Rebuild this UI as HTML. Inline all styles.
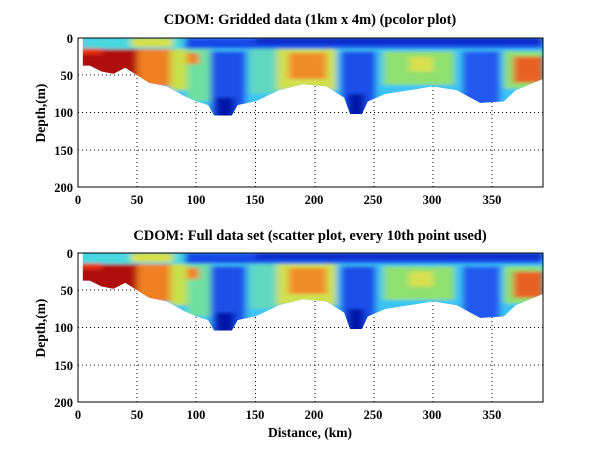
<!DOCTYPE html>
<html><head><style>
body{margin:0;background:#fff;}
svg{display:block;font-family:"Liberation Serif",serif;font-weight:bold;}
</style></head><body>
<svg width="600" height="451" viewBox="0 0 600 451" xmlns="http://www.w3.org/2000/svg">
<defs>
<filter id="bl" x="-5%" y="-5%" width="110%" height="110%"><feGaussianBlur stdDeviation="3 2"/></filter>
<clipPath id="cp"><polygon points="4,0 393,0 393,55 370,70 360,85 340,87 320,70 300,65 280,70 260,75 245,85 240,102 230,102 225,80 210,65 190,62 170,70 150,85 135,90 130,104 115,104 110,90 100,85 90,78 75,65 60,60 50,50 40,40 30,48 20,45 10,37 4,37"/></clipPath>
<g id="data">
<g clip-path="url(#cp)">
<rect x="0" y="0" width="393" height="110" fill="#3cc4f4"/>
<g filter="url(#bl)">
<rect x="0" y="0" width="393" height="110" fill="#3cc4f4"/>
<rect x="90" y="0" width="303" height="14" fill="#1848e8"/>
<rect x="150" y="0" width="243" height="8" fill="#0a28c8"/>
<rect x="0" y="0" width="90" height="15" fill="#48d8e0"/>
<rect x="45" y="0" width="35" height="12" fill="#d8e048"/>
<rect x="0" y="15" width="55" height="40" fill="#b01010"/>
<rect x="0" y="14" width="20" height="8" fill="#e83010"/>
<rect x="50" y="15" width="30" height="50" fill="#f08020"/>
<rect x="78" y="15" width="18" height="55" fill="#c8e048"/>
<rect x="92" y="15" width="20" height="70" fill="#70e0a0"/>
<rect x="92" y="20" width="10" height="15" fill="#f08020"/>
<rect x="112" y="18" width="30" height="90" fill="#1a50ea"/>
<rect x="116" y="80" width="16" height="30" fill="#0414a8"/>
<rect x="145" y="15" width="25" height="60" fill="#60d8c0"/>
<rect x="168" y="15" width="50" height="55" fill="#d0e050"/>
<rect x="178" y="20" width="32" height="35" fill="#f08c28"/>
<rect x="222" y="18" width="30" height="90" fill="#1a50ea"/>
<rect x="228" y="75" width="14" height="30" fill="#0414a8"/>
<rect x="258" y="18" width="60" height="45" fill="#90e070"/>
<rect x="280" y="25" width="20" height="20" fill="#d8e050"/>
<rect x="325" y="18" width="32" height="75" fill="#2058f0"/>
<rect x="360" y="18" width="33" height="50" fill="#90e070"/>
<rect x="368" y="25" width="25" height="35" fill="#e86020"/>
</g></g></g>
<g id="grid" fill="none" stroke="#000" stroke-dasharray="1,3" stroke-width="1">
<line x1="59" y1="0" x2="59" y2="149"/><line x1="118" y1="0" x2="118" y2="149"/><line x1="177.5" y1="0" x2="177.5" y2="149"/><line x1="237" y1="0" x2="237" y2="149"/><line x1="296" y1="0" x2="296" y2="149"/><line x1="355" y1="0" x2="355" y2="149"/><line x1="414" y1="0" x2="414" y2="149"/>
<line x1="0" y1="37" x2="465" y2="37"/><line x1="0" y1="74.5" x2="465" y2="74.5"/><line x1="0" y1="112" x2="465" y2="112"/>
</g>
<rect id="box" x="0" y="0" width="465" height="149" fill="none" stroke="#000"/>
</defs>

<text x="310" y="24" font-size="14.5" text-anchor="middle">CDOM: Gridded data (1km x 4m) (pcolor plot)</text>
<g transform="translate(78,38)"><use href="#grid"/><g transform="scale(1.183,0.745)"><use href="#data"/></g><use href="#box"/></g>
<g font-size="12.5" text-anchor="middle">
<text x="78" y="204">0</text><text x="137" y="204">50</text><text x="196" y="204">100</text><text x="255" y="204">150</text><text x="314" y="204">200</text><text x="373" y="204">250</text><text x="432" y="204">300</text><text x="492" y="204">350</text>
</g>
<g font-size="12.5" text-anchor="end">
<text x="73" y="43">0</text><text x="73" y="80">50</text><text x="73" y="117">100</text><text x="73" y="155">150</text><text x="73" y="192">200</text>
</g>
<text transform="translate(45,113) rotate(-90)" font-size="13.5" text-anchor="middle">Depth,(m)</text>

<text x="310" y="240" font-size="14.5" text-anchor="middle">CDOM: Full data set (scatter plot, every 10th point used)</text>
<g transform="translate(78,253)"><use href="#grid"/><g transform="scale(1.183,0.745)"><use href="#data"/></g><use href="#box"/></g>
<g font-size="12.5" text-anchor="middle">
<text x="78" y="419">0</text><text x="137" y="419">50</text><text x="196" y="419">100</text><text x="255" y="419">150</text><text x="314" y="419">200</text><text x="373" y="419">250</text><text x="432" y="419">300</text><text x="492" y="419">350</text>
</g>
<g font-size="12.5" text-anchor="end">
<text x="73" y="258">0</text><text x="73" y="295">50</text><text x="73" y="332">100</text><text x="73" y="370">150</text><text x="73" y="407">200</text>
</g>
<text transform="translate(45,328) rotate(-90)" font-size="13.5" text-anchor="middle">Depth,(m)</text>
<text x="310" y="437" font-size="13.5" text-anchor="middle">Distance, (km)</text>
</svg>
</body></html>
